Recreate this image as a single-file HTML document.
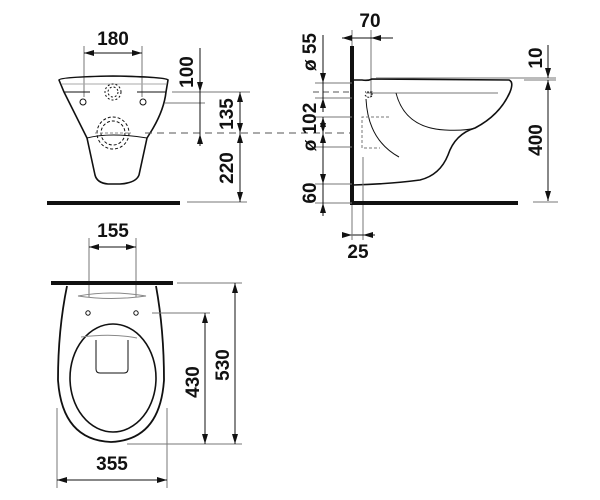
<!DOCTYPE html>
<html><head><meta charset="utf-8"><style>
html,body{margin:0;padding:0;background:#fff;}
svg{display:block}
text{font-family:"Liberation Sans",sans-serif;font-weight:bold;font-size:19px;fill:#111;}
</style></head><body>
<svg width="600" height="500" viewBox="0 0 600 500" xmlns="http://www.w3.org/2000/svg">
<defs>
<marker id="a" viewBox="0 0 10 6" refX="10" refY="3" markerWidth="10" markerHeight="6" orient="auto-start-reverse" markerUnits="userSpaceOnUse"><path d="M0,0L10,3L0,6z" fill="#111"/></marker>
</defs>
<g stroke="#111" fill="none" stroke-width="1">
<!-- FRONT VIEW -->
<line x1="84" y1="46" x2="84" y2="97" stroke="#777"/>
<line x1="142" y1="46" x2="142" y2="97" stroke="#777"/>
<line x1="84" y1="53" x2="142" y2="53" marker-start="url(#a)" marker-end="url(#a)"/>
<path d="M59,80 Q60,77 113,76 Q166,77 168,80 L166,92 Q164,110 152,130 L147,138 L139,175 Q136,183 120,184 L108,184 Q97,183 95,175 L87,138 Q73,110 64,92 Z" stroke-width="1.6"/>
<path d="M62,84 L166,84" stroke="#aaa"/>
<path d="M64,92 L90,92 M137,92 L166,92" stroke-width="1"/>
<path d="M87,138 Q110,132 147,138" stroke-width="1"/>
<circle cx="83" cy="102" r="3"/><circle cx="143" cy="102" r="3"/>
<circle cx="113" cy="92" r="8" stroke-dasharray="2,2"/><circle cx="113" cy="92" r="5" stroke-dasharray="2,2"/>
<circle cx="113" cy="133" r="16" stroke-dasharray="3,2"/><circle cx="113" cy="133" r="12" stroke-dasharray="3,2"/>
<line x1="95" y1="133" x2="131" y2="133" stroke="#888" stroke-dasharray="3,2"/>
<rect x="47" y="201" width="133" height="4" fill="#111" stroke="none"/>
<line x1="172" y1="92" x2="250" y2="92" stroke="#777"/>
<line x1="165" y1="103" x2="205" y2="103" stroke="#777"/>
<line x1="145" y1="133" x2="352" y2="133" stroke-dasharray="7,5" stroke="#555"/>
<line x1="187" y1="202" x2="247" y2="202" stroke="#777"/>
<line x1="200" y1="48" x2="200" y2="92" marker-end="url(#a)"/>
<line x1="200" y1="92" x2="200" y2="146"/>
<line x1="200" y1="146" x2="200" y2="134" marker-end="url(#a)"/>
<line x1="240" y1="92" x2="240" y2="133" marker-start="url(#a)" marker-end="url(#a)"/>
<line x1="240" y1="133" x2="240" y2="202" marker-start="url(#a)" marker-end="url(#a)"/>

<!-- SIDE VIEW -->
<line x1="352" y1="30" x2="352" y2="205" stroke="#777"/>
<line x1="371" y1="30" x2="371" y2="96" stroke="#777"/>
<line x1="342" y1="38" x2="352" y2="38" marker-start="url(#a)"/>
<line x1="352" y1="38" x2="371" y2="38"/>
<line x1="371" y1="38" x2="393" y2="38" marker-start="url(#a)"/>
<path d="M353,80 L362,80 Q368,81 372,79 L509,80 Q514,82 510,92 Q500,115 475,128 Q455,134 448,155 Q440,175 420,180 Q390,184 353,185" stroke-width="1.6"/>
<line x1="376" y1="78" x2="556" y2="78" stroke="#777"/>
<line x1="366" y1="93" x2="498" y2="93" stroke="#777"/>
<path d="M396,93 Q405,128 445,130 Q465,131 475,128" stroke-width="1"/>
<path d="M365,95 Q368,99 372,96 L372,92 L365,92" stroke-width="1" stroke-dasharray="2,1"/>
<path d="M366,99 Q368,140 399,157" stroke-width="1"/>
<path d="M389,117 L362,117 L362,148 L380,148" stroke-dasharray="3,2" stroke="#777"/>
<line x1="363" y1="157" x2="363" y2="240" stroke="#777"/>
<rect x="350" y="46" width="4" height="158" fill="#111" stroke="none"/>
<rect x="350" y="201" width="168" height="4" fill="#111" stroke="none"/>
<line x1="315" y1="83" x2="352" y2="83" stroke="#777"/>
<line x1="313" y1="92" x2="352" y2="92" stroke-dasharray="6,4" stroke="#555"/>
<line x1="315" y1="98" x2="352" y2="98" stroke="#777"/>
<line x1="315" y1="117" x2="352" y2="117" stroke="#777"/>
<line x1="315" y1="147" x2="352" y2="147" stroke="#777"/>
<line x1="315" y1="184" x2="352" y2="184" stroke="#777"/>
<line x1="315" y1="203" x2="352" y2="203" stroke="#777"/>
<line x1="323" y1="35" x2="323" y2="83" marker-end="url(#a)"/>
<line x1="323" y1="83" x2="323" y2="98"/>
<line x1="323" y1="112" x2="323" y2="98" marker-end="url(#a)"/>
<line x1="323" y1="117" x2="323" y2="133" marker-start="url(#a)" marker-end="url(#a)"/>
<line x1="323" y1="133" x2="323" y2="184" marker-start="url(#a)" marker-end="url(#a)"/>
<line x1="323" y1="184" x2="323" y2="214"/>
<line x1="323" y1="216" x2="323" y2="203" marker-end="url(#a)"/>
<line x1="343" y1="235" x2="352" y2="235" marker-end="url(#a)"/>
<line x1="352" y1="235" x2="363" y2="235"/>
<line x1="375" y1="235" x2="363" y2="235" marker-end="url(#a)"/>
<line x1="352" y1="205" x2="352" y2="240" stroke="#777"/>
<line x1="524" y1="80" x2="556" y2="80" stroke="#777"/>
<line x1="533" y1="202" x2="558" y2="202" stroke="#777"/>
<line x1="548" y1="45" x2="548" y2="78" marker-end="url(#a)"/>
<line x1="548" y1="80" x2="548" y2="201" marker-start="url(#a)" marker-end="url(#a)"/>

<!-- TOP VIEW -->
<line x1="89" y1="238" x2="89" y2="297" stroke="#777"/>
<line x1="136" y1="238" x2="136" y2="297" stroke="#777"/>
<line x1="89" y1="247" x2="136" y2="247" marker-start="url(#a)" marker-end="url(#a)"/>
<path d="M67,286 Q58,330 58,380 Q62,440 111,442 Q160,440 164,380 Q164,330 156,286" stroke-width="1.8"/>
<path d="M78,296 Q111,290 146,296 Q111,301 78,296" stroke="#888"/>
<ellipse cx="113" cy="378" rx="43" ry="54" stroke-width="1.6"/>
<path d="M81,337 Q113,333 137,338" stroke="#888"/>
<path d="M96,340 L96,369 Q96,373 100,373 L124,373 Q128,373 128,369 L128,340" stroke-width="1"/>
<circle cx="88" cy="313" r="2.2"/><circle cx="136" cy="313" r="2.2"/>
<rect x="51" y="281" width="122" height="4" fill="#111" stroke="none"/>
<line x1="177" y1="283" x2="242" y2="283" stroke="#777"/>
<line x1="152" y1="313" x2="210" y2="313" stroke="#777"/>
<line x1="127" y1="444" x2="242" y2="444" stroke="#777"/>
<line x1="205" y1="313" x2="205" y2="444" marker-start="url(#a)" marker-end="url(#a)"/>
<line x1="235" y1="283" x2="235" y2="444" marker-start="url(#a)" marker-end="url(#a)"/>
<line x1="57" y1="408" x2="57" y2="488" stroke="#777"/>
<line x1="167" y1="408" x2="167" y2="488" stroke="#777"/>
<line x1="57" y1="480" x2="167" y2="480" marker-start="url(#a)" marker-end="url(#a)"/>
</g>
<text x="113" y="45" text-anchor="middle">180</text>
<text transform="translate(193,72) rotate(-90)" text-anchor="middle">100</text>
<text transform="translate(233,114) rotate(-90)" text-anchor="middle">135</text>
<text transform="translate(233,168) rotate(-90)" text-anchor="middle">220</text>
<text x="370" y="27" text-anchor="middle">70</text>
<text transform="translate(316,52) rotate(-90)" text-anchor="middle">ø 55</text>
<text transform="translate(316,127) rotate(-90)" text-anchor="middle">ø 102</text>
<text transform="translate(316,193) rotate(-90)" text-anchor="middle">60</text>
<text x="358" y="258" text-anchor="middle">25</text>
<text transform="translate(542,58) rotate(-90)" text-anchor="middle">10</text>
<text transform="translate(542,140) rotate(-90)" text-anchor="middle">400</text>
<text x="113" y="237" text-anchor="middle">155</text>
<text transform="translate(199,382) rotate(-90)" text-anchor="middle">430</text>
<text transform="translate(229,365) rotate(-90)" text-anchor="middle">530</text>
<text x="112" y="470" text-anchor="middle">355</text>
</svg>
</body></html>
